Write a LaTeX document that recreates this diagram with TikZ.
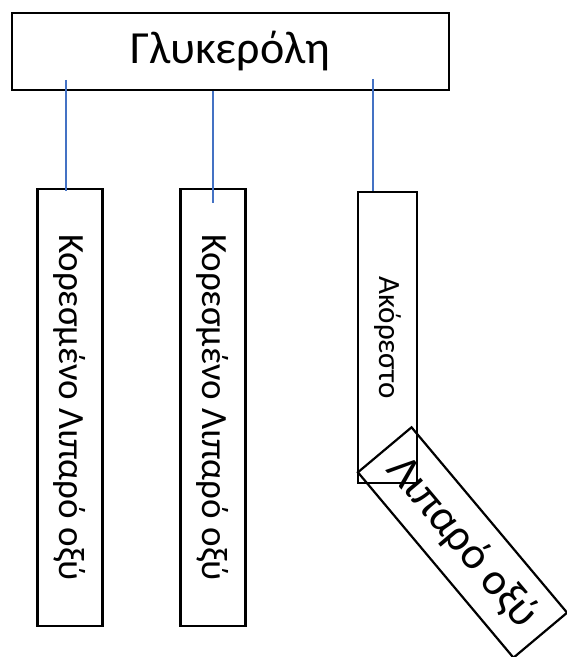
\documentclass[tikz,border=0pt]{standalone}
\usepackage{fontspec}
\setmainfont{Carlito}
\usetikzlibrary{positioning}

\begin{document}
\begin{tikzpicture}[
    x=1pt, y=-1pt,
    box/.style={rectangle, draw=black, line width=2.2pt, align=center, inner sep=2pt},
    headbox/.style={box, minimum width=437pt, minimum height=77pt, font=\fontsize{46}{52}\selectfont},
    tallbox/.style={box, rotate=-90, minimum width=437pt, minimum height=65pt, font=\fontsize{37}{42}\selectfont},
    smallbox/.style={box, rotate=-90, minimum width=291pt, minimum height=59pt, font=\fontsize{31}{36}\selectfont},
    tiltbox/.style={box, rotate=-50, minimum width=242pt, minimum height=70pt, font=\fontsize{45}{50}\selectfont},
    link/.style={draw={rgb,255:red,68;green,114;blue,196}, line width=1.3pt}
]
\useasboundingbox (0,0) rectangle (567,657);

% ================= NODES =================
\node[headbox] (glyc) at (230.25,51.25) {Γλυκερόλη};

\node[tallbox] (sat1) at (70,407.5) {Κορεσμένο Λιπαρό οξύ};
\node[tallbox] (sat2) at (213,407.5) {Κορεσμένο Λιπαρό οξύ};
\node[smallbox] (unsat) at (387.5,337.5) {Ακόρεστο};
\node[tiltbox] (acid) at (462.5,542.5) {Λιπαρό οξύ};

% ================= LINKS =================
% (rotated boxes: .west is the top edge on the page)
\draw[link] ([xshift=-4pt,yshift=11pt]glyc.south -| sat1.center) -- ([xshift=-4pt,yshift=-3.5pt]sat1.west);
\draw[link] (glyc.south -| sat2.center) -- ([yshift=-15pt]sat2.west);
\draw[link] ([xshift=-14.5pt,yshift=12pt]glyc.south -| unsat.center) -- ([xshift=-14.5pt]unsat.west);

\end{tikzpicture}
\end{document}
